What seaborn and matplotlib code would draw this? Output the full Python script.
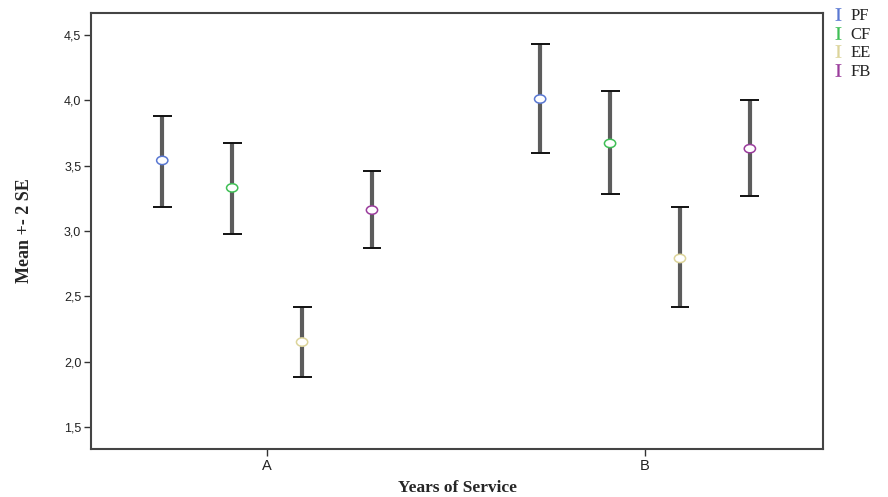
import numpy as np
import pandas as pd
import matplotlib
matplotlib.use("Agg")
import matplotlib.pyplot as plt
import seaborn as sns
from matplotlib.lines import Line2D
from matplotlib.markers import MarkerStyle
from matplotlib.transforms import Affine2D

# Data
groups = ["A", "B"]
measures = ["PF", "CF", "EE", "FB"]
means = {
    "A": [3.54, 3.33, 2.15, 3.16],
    "B": [4.01, 3.67, 2.79, 3.63],
}
upper = {
    "A": [3.88, 3.67, 2.42, 3.46],
    "B": [4.43, 4.07, 3.18, 4.00],
}
lower = {
    "A": [3.18, 2.98, 1.88, 2.87],
    "B": [3.60, 3.28, 2.42, 3.27],
}
colors = ["#5a78d2", "#3fbf55", "#dcd49a", "#9a3c9c"]
yticks = [1.5, 2.0, 2.5, 3.0, 3.5, 4.0, 4.5]
ytick_labels = ["1,5", "2,0", "2,5", "3,0", "3,5", "4,0", "4,5"]

rows = []
for g in groups:
    for i, m in enumerate(measures):
        rows.append(dict(group=g, measure=m, mean=means[g][i],
                         lo=lower[g][i], hi=upper[g][i]))
df = pd.DataFrame(rows)
df["gi"] = df["group"].map({g: k for k, g in enumerate(groups)})
df["mi"] = df["measure"].map({m: k for k, m in enumerate(measures)})
df["x"] = df["gi"] + (df["mi"] - 1.5) * 0.185

sns.set_style("white")
plt.rcParams["mathtext.fontset"] = "stix"
fig = plt.figure(figsize=(8.88, 4.97), dpi=100)
ax = fig.add_axes([0.1025, 0.0966, 0.8243, 0.8772])

# error bars
cap = 0.025
ax.vlines(df["x"], df["lo"], df["hi"], color="#5c5c5c", lw=3, zorder=2)
ax.hlines(df["lo"], df["x"] - cap, df["x"] + cap, color="#111111", lw=1.4, zorder=3)
ax.hlines(df["hi"], df["x"] - cap, df["x"] + cap, color="#111111", lw=1.4, zorder=3)

ell = MarkerStyle("o", transform=Affine2D().scale(1.35, 1.0))
sns.scatterplot(data=df, x="x", y="mean", hue="measure", palette=colors,
                marker=ell, s=36, linewidth=1.1,
                legend=False, ax=ax, zorder=4)
coll = ax.collections[-1]
coll.set_edgecolors([colors[k] for k in df["mi"]])
coll.set_facecolors(["white"] * len(df))

ax.set_xlim(-0.466, 1.471)
ax.set_ylim(1.332, 4.668)
ax.set_xticks(range(len(groups)))
ax.set_xticklabels(groups, fontfamily="Liberation Sans", fontsize=10.5, color="#222222")
ax.set_yticks(yticks)
ax.set_yticklabels(ytick_labels, fontfamily="Liberation Sans", fontsize=9, color="#222222")
ax.tick_params(axis="both", direction="out", length=5, width=1, color="#333333",
               left=True, bottom=True, pad=2)
for sp in ax.spines.values():
    sp.set_color("#444444")
    sp.set_linewidth(1.5)

ax.set_xlabel("Years of Service", fontfamily="Liberation Serif", fontweight="bold",
              fontsize=12.5, labelpad=5)
ax.set_ylabel("Mean +- 2 SE", fontfamily="Liberation Serif", fontsize=13,
              fontweight="bold", labelpad=22)

handles = [Line2D([], [], ls="none", marker="$\\mathrm{I}$", markersize=9,
                  color=c, markeredgewidth=0.2) for c in colors]
leg = fig.legend(handles, measures, loc="upper left",
                 bbox_to_anchor=(0.933, 0.99), frameon=False,
                 prop={"family": "Liberation Serif", "size": 12},
                 handlelength=0.7, handletextpad=0.4, labelspacing=0.15,
                 borderaxespad=0.0, borderpad=0.2)

fig.savefig("out.png", dpi=100, facecolor="white")
